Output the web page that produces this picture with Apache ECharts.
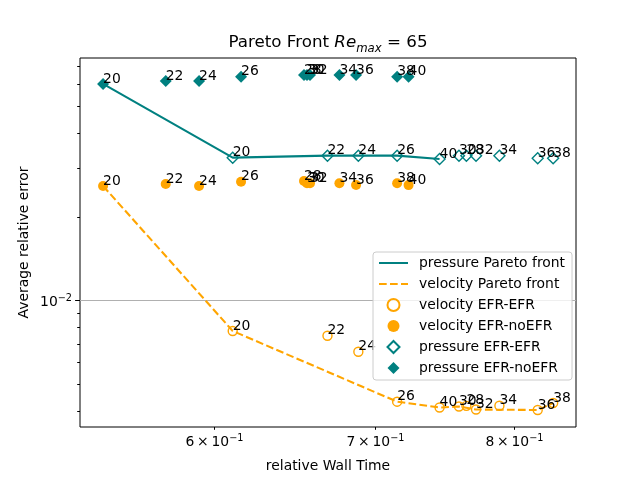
<!DOCTYPE html>
<html><head><meta charset="utf-8">
<script src="https://cdn.jsdelivr.net/npm/echarts@6/dist/echarts.min.js"></script>
<style>html,body{margin:0;padding:0;background:#fff}#c{width:640px;height:480px}</style>
</head><body><div id="c"></div>
<script>
// ---- data ----
const configs = [20, 22, 24, 26, 28, 30, 32, 34, 36, 38, 40];
const timeEfrNoEfr = [0.5393, 0.5727, 0.5913, 0.6156, 0.6539, 0.6558, 0.6577, 0.6765, 0.6874, 0.7150, 0.7229];
const timeEfrEfr   = [0.6107, 0.6688, 0.6889, 0.7150, 0.7641, 0.7587, 0.7712, 0.7887, 0.8182, 0.8304, 0.7447];
const pressureEfrNoEfr = [0.0601, 0.0616, 0.0616, 0.0638, 0.0647, 0.0647, 0.0647, 0.0647, 0.0647, 0.0638, 0.0638];
const velocityEfrNoEfr = [0.02582, 0.02625, 0.02582, 0.02675, 0.02691, 0.0264, 0.0264, 0.0264, 0.02603, 0.0264, 0.0260];
const pressureEfrEfr   = [0.03264, 0.03319, 0.03319, 0.03319, 0.03319, 0.03319, 0.03319, 0.03319, 0.03248, 0.03248, 0.03228];
const velocityEfrEfr   = [0.007767, 0.007469, 0.006542, 0.004325, 0.004179, 0.004155, 0.004053, 0.004183, 0.004037, 0.004277, 0.004121];
const pressureFront = [['noEFR', 20], ['EFR', 20], ['EFR', 22], ['EFR', 24], ['EFR', 26], ['EFR', 40]];
const velocityFront = [['noEFR', 20], ['EFR', 20], ['EFR', 26], ['EFR', 40], ['EFR', 30], ['EFR', 32], ['EFR', 36], ['EFR', 38]];
const xTickValues = [0.6, 0.7, 0.8];
const xTickMantissa = ['6', '7', '8'];
const xTickExponent = '\u22121';
const yMajorTicks = [0.01];
const yMajorExponent = ['\u22122'];
const yMinorTicks = [0.004, 0.005, 0.006, 0.007, 0.008, 0.009, 0.02, 0.03, 0.04, 0.05, 0.06, 0.07];
const xRange = [0.5275, 0.8488];
const yRange = [0.003507, 0.07451];

// ---- styles ----
const TEAL = '#008080', ORANGE = '#FFA500';
const FONT = 'DejaVu Sans';
const DIAMOND = 'path://M5,0L10,5L5,10L0,5Z';
const CIRCLE = 'path://M5,0A5,5,0,1,1,4.999,0Z';
const LW = 2.08;

function pts(times, errs) {
  return configs.map((c, i) => ({ value: [times[i], errs[i]], name: String(c) }));
}
function front(list, kind) {
  return list.map(([set, c]) => {
    const i = configs.indexOf(c);
    if (kind === 'p') return set === 'EFR' ? [timeEfrEfr[i], pressureEfrEfr[i]] : [timeEfrNoEfr[i], pressureEfrNoEfr[i]];
    return set === 'EFR' ? [timeEfrEfr[i], velocityEfrEfr[i]] : [timeEfrNoEfr[i], velocityEfrNoEfr[i]];
  });
}
const pointLabel = {
  show: true, formatter: '{b}', position: ['50%', '50%'], align: 'left', verticalAlign: 'bottom',
  offset: [0, 2], color: '#000', opacity: 1, fontFamily: FONT, fontSize: 13.9, lineHeight: 14
};

const chart = echarts.init(document.getElementById('c'), null, { renderer: 'canvas' });
chart.setOption({
  animation: false,
  backgroundColor: '#fff',
  title: {
    text: '{n|Pareto Front }{i|Re}{s|max}{n| = 65}',
    left: 328, top: 34, textAlign: 'center', padding: 0,
    textStyle: {
      fontWeight: 'normal',
      rich: {
        n: { fontFamily: FONT, fontWeight: 'normal', fontSize: 16.7, lineHeight: 20, verticalAlign: 'top', color: '#000' },
        i: { fontFamily: FONT, fontWeight: 'normal', fontStyle: 'italic', fontSize: 16.7, lineHeight: 20, verticalAlign: 'top', color: '#000' },
        s: { fontFamily: FONT, fontWeight: 'normal', fontStyle: 'italic', fontSize: 11.7, lineHeight: 14, padding: [9, 0, 0, 0], verticalAlign: 'top', color: '#000' }
      }
    }
  },
  grid: { left: 80, right: 64, top: 58, bottom: 53, show: true, borderColor: '#000', borderWidth: 1, backgroundColor: 'transparent' },
  xAxis: {
    type: 'log', logBase: 10, min: xRange[0], max: xRange[1],
    axisLine: { show: false }, axisTick: { show: false }, axisLabel: { show: false }, splitLine: { show: false }, minorTick: { show: false }
  },
  yAxis: {
    type: 'log', logBase: 10, min: yRange[0], max: yRange[1],
    axisLine: { show: false }, axisTick: { show: false }, axisLabel: { show: false }, splitLine: { show: false }, minorTick: { show: false }
  },
  legend: {
    orient: 'vertical', left: 373, top: 252,
    padding: [4, 7, 5, 5], itemGap: 7, itemWidth: 29, itemHeight: 12,
    backgroundColor: 'rgba(255,255,255,0.8)', borderColor: '#cccccc', borderWidth: 1, borderRadius: 3,
    textStyle: { fontFamily: FONT, fontSize: 13.9, lineHeight: 14, color: '#000', padding: [0, 0, 0, 6] },
    data: [
      { name: 'pressure Pareto front', itemStyle: { opacity: 0 } },
      { name: 'velocity Pareto front', itemStyle: { opacity: 0 } },
      { name: 'velocity EFR-EFR', icon: CIRCLE },
      { name: 'velocity EFR-noEFR', icon: CIRCLE },
      { name: 'pressure EFR-EFR', icon: DIAMOND },
      { name: 'pressure EFR-noEFR', icon: DIAMOND }
    ]
  },
  series: [
    { name: 'pressure Pareto front', type: 'line', symbol: 'none', z: 2,
      lineStyle: { color: TEAL, width: LW }, itemStyle: { color: TEAL, opacity: 0 },
      data: front(pressureFront, 'p') },
    { name: 'velocity Pareto front', type: 'line', symbol: 'none', z: 2,
      lineStyle: { color: ORANGE, width: LW, type: [7.7, 3.3] }, itemStyle: { color: ORANGE, opacity: 0 },
      data: front(velocityFront, 'v') },
    { name: 'velocity EFR-EFR', type: 'scatter', symbol: 'circle', symbolSize: 9, z: 3,
      itemStyle: { color: 'rgba(255,255,255,0)', borderColor: ORANGE, borderWidth: 1.4, opacity: 1 },
      label: pointLabel, data: pts(timeEfrEfr, velocityEfrEfr) },
    { name: 'velocity EFR-noEFR', type: 'scatter', symbol: 'circle', symbolSize: 10, z: 3,
      itemStyle: { color: ORANGE, opacity: 1 },
      label: pointLabel, data: pts(timeEfrNoEfr, velocityEfrNoEfr) },
    { name: 'pressure EFR-EFR', type: 'scatter', symbol: 'diamond', symbolSize: 11, z: 3,
      itemStyle: { color: 'rgba(255,255,255,0)', borderColor: TEAL, borderWidth: 1.4, opacity: 1 },
      label: pointLabel, data: pts(timeEfrEfr, pressureEfrEfr) },
    { name: 'pressure EFR-noEFR', type: 'scatter', symbol: 'diamond', symbolSize: 12, z: 3,
      itemStyle: { color: TEAL, opacity: 1 },
      label: pointLabel, data: pts(timeEfrNoEfr, pressureEfrNoEfr) }
  ]
});

// ---- ticks, tick labels, gridline and axis titles positioned through the axes ----
const px = v => chart.convertToPixel({ xAxisIndex: 0 }, v);
const py = v => chart.convertToPixel({ yAxisIndex: 0 }, v);
const xl = px(xRange[0]), xr = px(xRange[1]), yb = py(yRange[0]), yt = py(yRange[1]);
const g = [];
const tickStyle = { stroke: '#000', lineWidth: 1 };
yMajorTicks.forEach((v, k) => {
  const y = Math.round(py(v)) + 0.5;
  g.push({ type: 'line', z: 1, silent: true, shape: { x1: xl, y1: y, x2: xr, y2: y }, style: { stroke: '#b0b0b0', lineWidth: 1 } });
  g.push({ type: 'line', z: 5, silent: true, shape: { x1: xl - 4.9, y1: y, x2: xl, y2: y }, style: tickStyle });
  g.push({ type: 'text', z: 5, silent: true, x: xl - 8, y: y + 1,
    style: { text: '{b|10}{s|' + yMajorExponent[k] + '}', align: 'right', verticalAlign: 'middle',
      rich: {
        b: { fontFamily: FONT, fontSize: 13.9, lineHeight: 16, verticalAlign: 'bottom', fill: '#000' },
        s: { fontFamily: FONT, fontSize: 9.7, lineHeight: 11, padding: [0, 0, 6, 0], verticalAlign: 'bottom', fill: '#000' }
      } } });
});
yMinorTicks.forEach(v => {
  const y = Math.round(py(v)) + 0.5;
  g.push({ type: 'line', z: 5, silent: true, shape: { x1: xl - 2.8, y1: y, x2: xl, y2: y }, style: tickStyle });
});
xTickValues.forEach((v, k) => {
  const x = Math.round(px(v)) + 0.5;
  g.push({ type: 'line', z: 5, silent: true, shape: { x1: x, y1: yb, x2: x, y2: yb + 2.8 }, style: tickStyle });
  g.push({ type: 'text', z: 5, silent: true, x: x, y: yb + 6,
    style: { text: '{b|' + xTickMantissa[k] + '\u2009\u00d7\u200910}{s|' + xTickExponent + '}', align: 'center', verticalAlign: 'top',
      rich: {
        b: { fontFamily: FONT, fontSize: 13.9, lineHeight: 16, verticalAlign: 'bottom', fill: '#000' },
        s: { fontFamily: FONT, fontSize: 9.7, lineHeight: 11, padding: [0, 0, 6, 0], verticalAlign: 'bottom', fill: '#000' }
      } } });
});
g.push({ type: 'text', z: 5, silent: true, x: (xl + xr) / 2, y: 466,
  style: { text: 'relative Wall Time', fontFamily: FONT, fontSize: 13.9, fill: '#000', align: 'center', verticalAlign: 'middle' } });
g.push({ type: 'text', z: 5, silent: true, x: 24, y: (yt + yb) / 2, rotation: Math.PI / 2,
  style: { text: 'Average relative error', fontFamily: FONT, fontSize: 13.9, fill: '#000', align: 'center', verticalAlign: 'middle' } });
chart.setOption({ graphic: g });
</script>
</body></html>
